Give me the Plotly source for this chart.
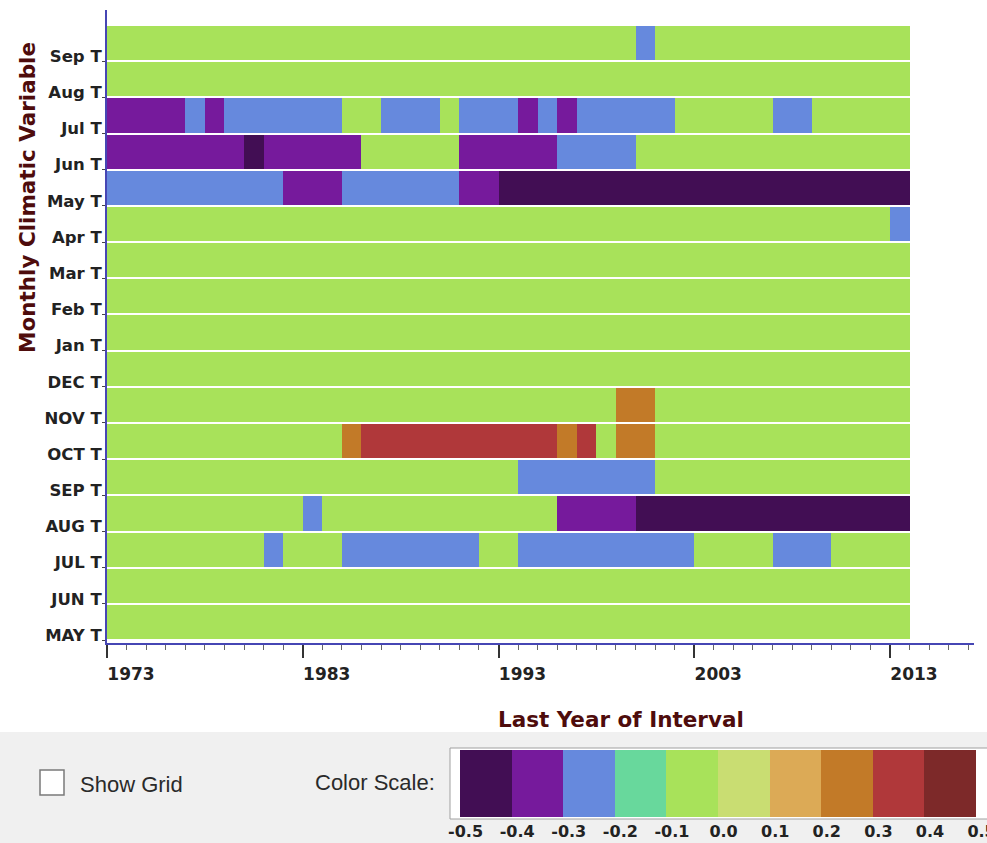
import plotly.graph_objects as go

# ---------------- data ----------------
years = list(range(1973, 2014))          # last year of interval (41 columns)
variables = ["MAY T", "JUN T", "JUL T", "AUG T", "SEP T", "OCT T", "NOV T", "DEC T",
             "Jan T", "Feb T", "Mar T", "Apr T", "May T", "Jun T", "Jul T", "Aug T", "Sep T"]
x_tick_years = [1973, 1983, 1993, 2003, 2013]

# representative values of the colour classes seen in the picture
D, P, B, G, O, R = -0.45, -0.35, -0.25, -0.05, 0.25, 0.35

may_prev = [G, G, G, G, G, G, G, G, G, G,  G, G, G, G, G, G, G, G, G, G,
            G, G, G, G, G, G, G, G, G, G,  G, G, G, G, G, G, G, G, G, G,  G]
jun_prev = [G, G, G, G, G, G, G, G, G, G,  G, G, G, G, G, G, G, G, G, G,
            G, G, G, G, G, G, G, G, G, G,  G, G, G, G, G, G, G, G, G, G,  G]
jul_prev = [G, G, G, G, G, G, G, G, B, G,  G, G, B, B, B, B, B, B, B, G,
            G, B, B, B, B, B, B, B, B, B,  G, G, G, G, B, B, B, G, G, G,  G]
aug_prev = [G, G, G, G, G, G, G, G, G, G,  B, G, G, G, G, G, G, G, G, G,
            G, G, G, P, P, P, P, D, D, D,  D, D, D, D, D, D, D, D, D, D,  D]
sep_prev = [G, G, G, G, G, G, G, G, G, G,  G, G, G, G, G, G, G, G, G, G,
            G, B, B, B, B, B, B, B, G, G,  G, G, G, G, G, G, G, G, G, G,  G]
oct_prev = [G, G, G, G, G, G, G, G, G, G,  G, G, O, R, R, R, R, R, R, R,
            R, R, R, O, R, G, O, O, G, G,  G, G, G, G, G, G, G, G, G, G,  G]
nov_prev = [G, G, G, G, G, G, G, G, G, G,  G, G, G, G, G, G, G, G, G, G,
            G, G, G, G, G, G, O, O, G, G,  G, G, G, G, G, G, G, G, G, G,  G]
dec_prev = [G, G, G, G, G, G, G, G, G, G,  G, G, G, G, G, G, G, G, G, G,
            G, G, G, G, G, G, G, G, G, G,  G, G, G, G, G, G, G, G, G, G,  G]
jan_cur = [G, G, G, G, G, G, G, G, G, G,  G, G, G, G, G, G, G, G, G, G,
           G, G, G, G, G, G, G, G, G, G,  G, G, G, G, G, G, G, G, G, G,  G]
feb_cur = [G, G, G, G, G, G, G, G, G, G,  G, G, G, G, G, G, G, G, G, G,
           G, G, G, G, G, G, G, G, G, G,  G, G, G, G, G, G, G, G, G, G,  G]
mar_cur = [G, G, G, G, G, G, G, G, G, G,  G, G, G, G, G, G, G, G, G, G,
           G, G, G, G, G, G, G, G, G, G,  G, G, G, G, G, G, G, G, G, G,  G]
apr_cur = [G, G, G, G, G, G, G, G, G, G,  G, G, G, G, G, G, G, G, G, G,
           G, G, G, G, G, G, G, G, G, G,  G, G, G, G, G, G, G, G, G, G,  B]
may_cur = [B, B, B, B, B, B, B, B, B, P,  P, P, B, B, B, B, B, B, P, P,
           D, D, D, D, D, D, D, D, D, D,  D, D, D, D, D, D, D, D, D, D,  D]
jun_cur = [P, P, P, P, P, P, P, D, P, P,  P, P, P, G, G, G, G, G, P, P,
           P, P, P, B, B, B, B, G, G, G,  G, G, G, G, G, G, G, G, G, G,  G]
jul_cur = [P, P, P, P, B, P, B, B, B, B,  B, B, G, G, B, B, B, G, B, B,
           B, P, B, P, B, B, B, B, B, G,  G, G, G, G, B, B, G, G, G, G,  G]
aug_cur = [G, G, G, G, G, G, G, G, G, G,  G, G, G, G, G, G, G, G, G, G,
           G, G, G, G, G, G, G, G, G, G,  G, G, G, G, G, G, G, G, G, G,  G]
sep_cur = [G, G, G, G, G, G, G, G, G, G,  G, G, G, G, G, G, G, G, G, G,
           G, G, G, G, G, G, G, B, G, G,  G, G, G, G, G, G, G, G, G, G,  G]

z_rows = [may_prev, jun_prev, jul_prev, aug_prev, sep_prev, oct_prev, nov_prev, dec_prev,
          jan_cur, feb_cur, mar_cur, apr_cur, may_cur, jun_cur, jul_cur, aug_cur, sep_cur]

scale_ticks = [-0.5, -0.4, -0.3, -0.2, -0.1, 0.0, 0.1, 0.2, 0.3, 0.4, 0.5]
scale_labels = ["-0.5", "-0.4", "-0.3", "-0.2", "-0.1", "0.0", "0.1", "0.2", "0.3", "0.4", "0.5"]
scale_colors = ["#420e54", "#761a9c", "#6689dd", "#68d89c", "#a8e25a",
                "#c9dd72", "#dcaa56", "#c27a28", "#b0383a", "#7d2929"]

# ---------------- layout geometry ----------------
W, H = 987, 843
ML, MR, MT, MB = 107, 13, 10, 200
PW, PH = W - ML - MR, H - MT - MB


def px(xp):
    return (xp - ML) / PW


def py(yp):
    return (H - MB - yp) / PH


n = len(scale_colors)
colorscale = []
for i, c in enumerate(scale_colors):
    colorscale.append([i / n, c])
    colorscale.append([(i + 1) / n, c])

tick_font = dict(family="DejaVu Sans", size=17, color="#222222", weight="bold")
title_font = dict(family="DejaVu Sans", size=21.5, color="#4e0c0c", weight="bold")

fig = go.Figure()
fig.add_trace(go.Heatmap(
    z=z_rows,
    x=[yr + 0.5 for yr in years],
    y=[k + 0.5 for k in range(len(variables))],
    zmin=-0.5, zmax=0.5,
    colorscale=colorscale,
    ygap=2,
    colorbar=dict(
        orientation="h",
        x=px(718), xanchor="center",
        y=py(792.5), yanchor="middle",
        len=516, lenmode="pixels",
        thickness=67, thicknessmode="pixels",
        outlinewidth=0, xpad=0, ypad=0,
        tickmode="array", tickvals=scale_ticks,
        ticktext=["\u2007" + s for s in scale_labels],
        ticklabeloverflow="allow",
        ticks="", tickfont=dict(family="DejaVu Sans", size=16, color="#222222", weight="bold"),
    ),
))

fig.update_layout(
    width=W, height=H,
    margin=dict(l=ML, r=MR, t=MT, b=MB, autoexpand=False),
    paper_bgcolor="white",
    plot_bgcolor="white",
    showlegend=False,
    xaxis=dict(
        range=[1973, 2017.29],
        tickmode="array", tickvals=x_tick_years, ticktext=[str(v) for v in x_tick_years],
        ticks="outside", ticklen=13, tickwidth=1.5, tickcolor="#333333",
        minor=dict(tickmode="linear", tick0=1973, dtick=1, ticks="outside",
                   ticklen=5, tickwidth=1, tickcolor="#666666", showgrid=False),
        showline=True, linecolor="#4646b4", linewidth=2,
        showgrid=False, zeroline=False,
        ticklabelshift=24, ticklabelstandoff=2,
        tickfont=tick_font,
        layer="below traces",
    ),
    yaxis=dict(
        range=[-0.083, 17.413],
        tickmode="array", tickvals=list(range(len(variables))), ticktext=variables,
        ticks="outside", ticklen=3, tickwidth=1, tickcolor="#444444",
        showline=True, linecolor="#4646b4", linewidth=2,
        showgrid=False, zeroline=False,
        ticklabelshift=-5, ticklabelstandoff=-3,
        tickfont=dict(family="DejaVu Sans", size=16.5, color="#222222", weight="bold"),
        layer="below traces",
    ),
    shapes=[
        dict(type="rect", xref="paper", yref="paper", x0=px(-20), x1=px(1010),
             y0=py(732), y1=py(860), fillcolor="#f0f0f0", line=dict(width=0), layer="below"),
        dict(type="rect", xref="paper", yref="paper", x0=px(450), x1=px(1010),
             y0=py(748), y1=py(819), fillcolor="white", line=dict(color="#a0a0a0", width=1),
             layer="below"),
        dict(type="rect", xref="paper", yref="paper", x0=px(40), x1=px(64),
             y0=py(770), y1=py(795), fillcolor="white", line=dict(color="#7a7a7a", width=1.5),
             layer="below"),
    ],
    annotations=[
        dict(text="Last Year of Interval", xref="paper", yref="paper",
             x=px(621), y=py(719), xanchor="center", yanchor="middle",
             showarrow=False, font=title_font),
        dict(text="Monthly Climatic Variable", xref="paper", yref="paper",
             x=px(27), y=py(198), xanchor="center", yanchor="middle", textangle=-90,
             showarrow=False, font=title_font),
        dict(text="Show Grid", xref="paper", yref="paper",
             x=px(78), y=py(784), xanchor="left", yanchor="middle",
             showarrow=False, font=dict(family="Liberation Sans", size=22, color="#2a2a2a")),
        dict(text="Color Scale:", xref="paper", yref="paper",
             x=px(313), y=py(782), xanchor="left", yanchor="middle",
             showarrow=False, font=dict(family="Liberation Sans", size=22, color="#2a2a2a")),
    ],
)

fig.write_html("out.html")
